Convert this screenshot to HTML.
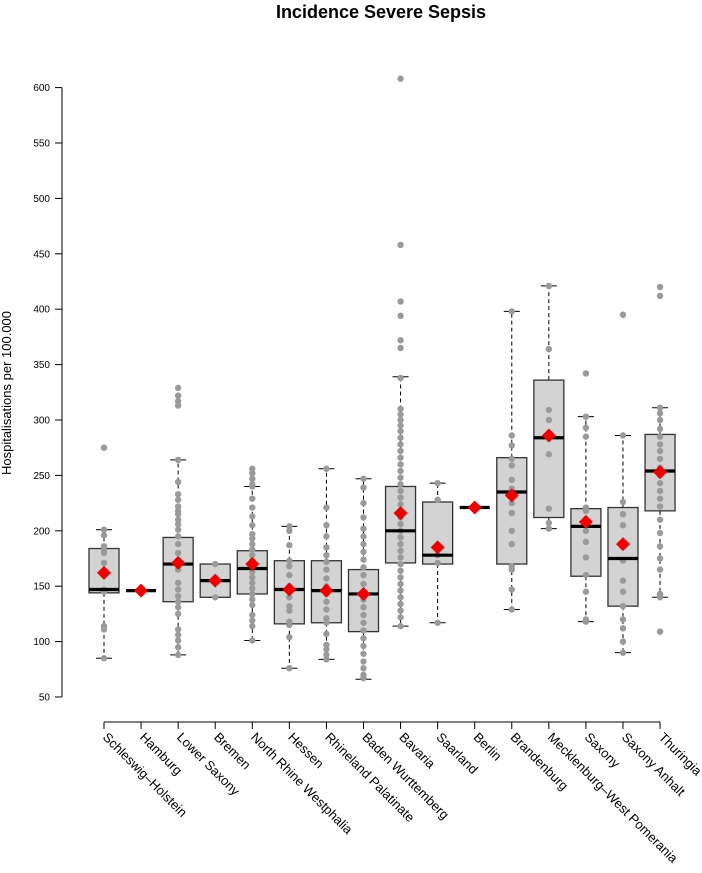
<!DOCTYPE html>
<html><head><meta charset="utf-8"><style>
body{margin:0;background:#fff}
svg{display:block;font-family:"Liberation Sans",Arial,sans-serif}
</style></head><body>
<svg id="chart" width="702" height="873" viewBox="0 0 702 873" xmlns="http://www.w3.org/2000/svg">
<text x="381" y="18" text-anchor="middle" font-size="18" font-weight="bold">Incidence Severe Sepsis</text>
<text transform="translate(11,393) rotate(-90)" text-anchor="middle" font-size="13">Hospitalisations per 100.000</text>
<g id="axes"></g>
<g id="marks"></g>
</svg>
<script>
const categories=["Schleswig–Holstein","Hamburg","Lower Saxony","Bremen","North Rhine Westphalia","Hessen","Rhineland Palatinate","Baden Wurttemberg","Bavaria","Saarland","Berlin","Brandenburg","Mecklenburg–West Pomerania","Saxony","Saxony Anhalt","Thuringia"];
const q1=[144,146,136,140,143,116,117,109,171,170,221,170,212,159,132,218];
const medians=[147,146,170,155,166,147,146,143,200,178,221,235,284,204,175,254];
const q3=[184,146,194,170,182,173,173,165,240,226,221,266,336,220,221,287];
const whiskerLow=[85,146,88,140,101,76,84,66,114,117,221,129,202,118,90,140];
const whiskerHigh=[201,146,264,170,240,204,256,247,339,243,221,398,421,303,286,311];
const means=[162,146,171,155,170,147,146,143,216,185,221,232,286,208,188,253];
const points=[
[275,201,196,186,183,180,171,147,145,114,111,85],
[146],
[329,322,317,313,264,244,233,228,222,218,215,210,206,201,195,188,180,172,165,153,147,141,136,131,125,111,106,101,95,88],
[170,140],
[256,252,247,242,240,229,221,213,205,197,193,188,183,178,173,168,163,158,153,148,143,138,133,124,119,114,101],
[204,200,187,173,168,160,150,140,132,128,118,115,104,76],
[256,221,205,195,185,178,172,165,157,150,143,136,129,121,117,107,97,93,88,84],
[247,239,225,212,202,195,188,181,174,167,160,152,145,138,131,124,117,110,103,96,89,82,76,70,67],
[608,458,407,394,372,365,338,310,305,300,295,290,284,278,272,266,260,254,248,242,236,230,224,218,212,206,200,194,188,182,176,170,164,158,152,146,140,134,128,122,114],
[243,228,178,171,117],
[221],
[398,286,277,265,259,246,238,225,216,200,188,168,165,147,129],
[421,364,309,300,284,269,220,207,202],
[342,303,293,285,221,218,208,200,190,176,160,145,120,118],
[395,286,226,215,205,190,173,155,145,132,120,112,100,90],
[420,412,311,306,300,292,285,278,272,265,257,250,243,236,229,222,210,198,186,175,165,143,140,109]
];
const yTicks=[50,100,150,200,250,300,350,400,450,500,550,600];

const NS="http://www.w3.org/2000/svg";
const yS=v=>697-(v-50)*1.108;
const xS=i=>104+i*37.07;
function mk(tag,attrs,parent){const e=document.createElementNS(NS,tag);for(const k in attrs)e.setAttribute(k,attrs[k]);parent.appendChild(e);return e;}
const axes=document.getElementById('axes'),marks=document.getElementById('marks');

// y axis
let yl=mk('line',{x1:62,x2:62,y1:yS(50),y2:yS(600),stroke:'#000'},axes);


yTicks.forEach(t=>{
  const l=mk('line',{x1:55,x2:62,y1:yS(t),y2:yS(t),stroke:'#000'},axes);
  
  
  const tx=mk('text',{x:50,y:yS(t)+3.5,'text-anchor':'end','font-size':10},axes);
  
  
  tx.textContent=t;
});
// x axis
let xl=mk('line',{x1:xS(0),x2:xS(categories.length-1),y1:722,y2:722,stroke:'#000'},axes);


categories.forEach((c,i)=>{
  const x=xS(i);
  const l=mk('line',{x1:x,x2:x,y1:722,y2:729,stroke:'#000'},axes);
  
  
  const tx=mk('text',{transform:`translate(${x-2},${738}) rotate(45)`,'font-size':13},axes);
  
  
  tx.textContent=c;
});

const bw=30,cap=16;
categories.forEach((c,i)=>{
  const x=xS(i);
  const g=mk('g',{},marks);
  
  
  if(whiskerHigh[i]>q3[i]) mk('line',{x1:x,x2:x,y1:yS(q3[i]),y2:yS(whiskerHigh[i]),stroke:'#000','stroke-dasharray':'4,3'},g);
  if(whiskerLow[i]<q1[i]) mk('line',{x1:x,x2:x,y1:yS(q1[i]),y2:yS(whiskerLow[i]),stroke:'#000','stroke-dasharray':'4,3'},g);
  mk('line',{x1:x-cap/2,x2:x+cap/2,y1:yS(whiskerHigh[i]),y2:yS(whiskerHigh[i]),stroke:'#000'},g);
  mk('line',{x1:x-cap/2,x2:x+cap/2,y1:yS(whiskerLow[i]),y2:yS(whiskerLow[i]),stroke:'#000'},g);
  mk('rect',{x:x-bw/2,y:yS(q3[i]),width:bw,height:Math.max(0,yS(q1[i])-yS(q3[i])),fill:'#d3d3d3',stroke:'#333','stroke-width':1.3},g);
  points[i].forEach(p=>{
    const d=mk('circle',{cx:x,cy:yS(p),r:3.2,fill:'#9a9a9a'},g);
    
    
  });
  const m=mk('line',{x1:x-bw/2,x2:x+bw/2,y1:yS(medians[i]),y2:yS(medians[i]),stroke:'#000','stroke-width':3.2},g);
  
  
  const my=yS(means[i]),s=7;
  const dm=mk('polygon',{points:`${x},${my-s} ${x+s},${my} ${x},${my+s} ${x-s},${my}`,fill:'#ee0000'},g);
  
  
});
</script>
</body></html>
